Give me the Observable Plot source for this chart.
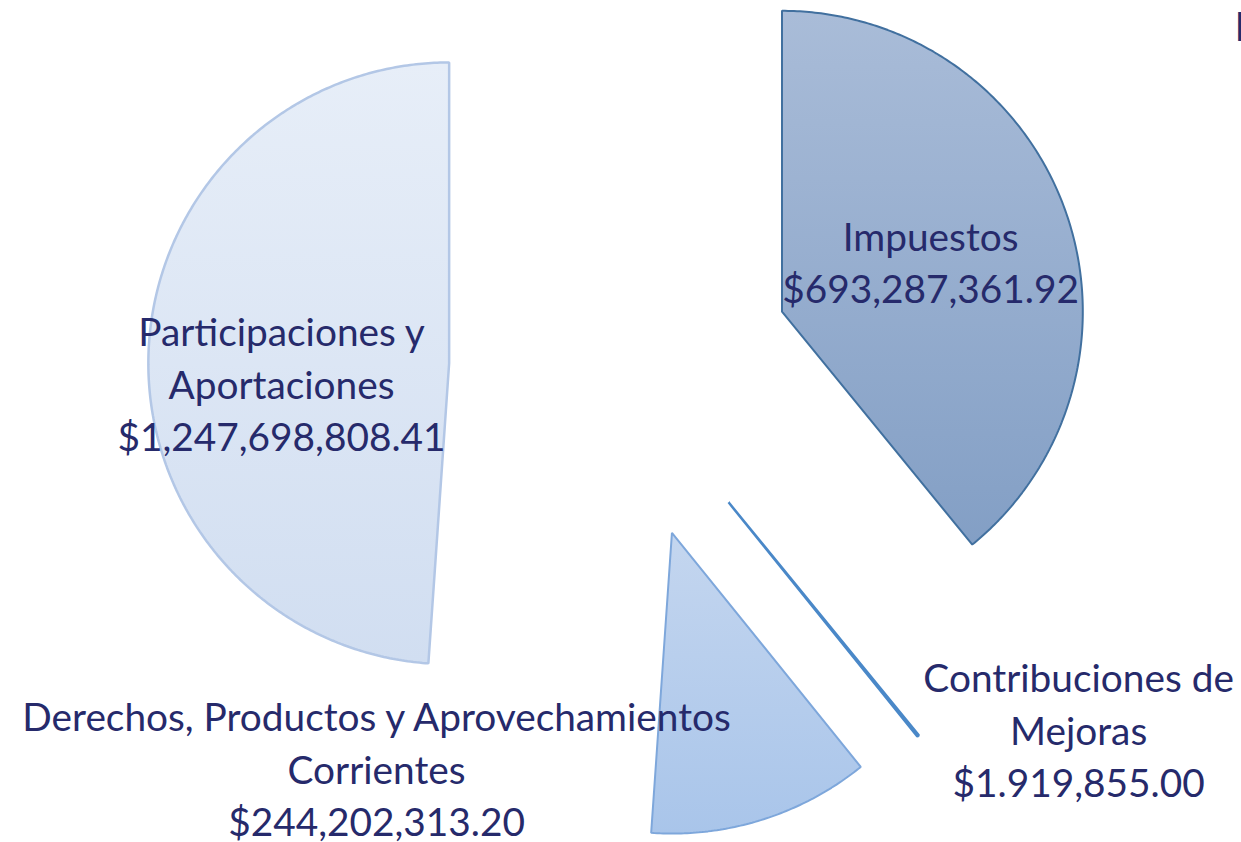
<!DOCTYPE html>
<html><head><meta charset="utf-8">
<script src="https://cdn.jsdelivr.net/npm/d3@7"></script>
<script src="https://cdn.jsdelivr.net/npm/@observablehq/plot@0.6"></script>
<style>
html,body{margin:0;padding:0;background:#fff;overflow:hidden}
#chart svg{display:block}
</style></head><body><div id="chart"></div>
<script>
// ---- data ----
const categories = ["Impuestos", "Contribuciones de Mejoras", "Derechos, Productos y Aprovechamientos Corrientes", "Participaciones y Aportaciones"];
const amounts = [693287361.92, 1919855.00, 244202313.20, 1247698808.41];
const amountLabels = ["$693,287,361.92", "$1.919,855.00", "$244,202,313.20", "$1,247,698,808.41"];
const labelLines = [["Impuestos"], ["Contribuciones de", "Mejoras"], ["Derechos, Productos y Aprovechamientos", "Corrientes"], ["Participaciones y", "Aportaciones"]];
const shares = [39.1, 0.1, 11.9, 48.9]; // share of the circle (%) as drawn in the picture
const clippedTitle = ["I"];

// ---- layout / style ----
const W = 1241, H = 842, R = 300.8, CX = 620, CY = 368.7, EXPLODE = 0.57;
const gradTop = ["#a9bcd8", "#5a8fcb", "#c4d6ef", "#e7eef8"];
const gradBottom = ["#839fc5", "#4d87c6", "#a9c5ea", "#d1def1"];
const strokes = ["#41709f", "#4a88c8", "#7ea7db", "#b3c7e6"];
const strokeWidths = [2, 2.5, 2, 2.5];
const labelPos = [[1.031, 0.362], [1.523, -1.192], [-0.811, -1.322], [-1.127, -0.042]];
const textColor = "#262a6b";

const arcs = d3.pie().sort(null).value(d => d)(shares);
const slices = arcs.map((a, i) => {
  const mid = (a.startAngle + a.endAngle) / 2;
  const ox = EXPLODE * Math.sin(mid), oy = EXPLODE * Math.cos(mid);
  const pts = [{x: ox, y: oy}];
  const n = Math.max(2, Math.ceil((a.endAngle - a.startAngle) / 0.01));
  for (let k = 0; k <= n; k++) {
    const t = a.startAngle + (a.endAngle - a.startAngle) * k / n;
    pts.push({x: ox + Math.sin(t), y: oy + Math.cos(t)});
  }
  return pts;
});

const labels = categories.map((c, i) => ({
  x: labelPos[i][0], y: labelPos[i][1],
  text: [...labelLines[i], amountLabels[i]].join("\n")
}));

const marks = slices.map((pts, i) => Plot.line(pts, {
  x: "x", y: "y", curve: "linear-closed",
  fill: `url(#grad${i})`, stroke: strokes[i], strokeWidth: strokeWidths[i], strokeLinejoin: "miter"
}));
marks.push(Plot.text(labels, {
  x: "x", y: "y", text: "text", fontSize: 38.8, fontFamily: "Lato", fill: textColor,
  lineHeight: 1.35, lineAnchor: "middle", textAnchor: "middle"
}));
marks.push(Plot.text(clippedTitle, {
  x: () => 2.041, y: () => 1.134, text: d => d, fontSize: 40, fontFamily: "Lato",
  fill: textColor, textAnchor: "start", lineAnchor: "middle"
}));

const svg = Plot.plot({
  width: W, height: H, margin: 0,
  x: {domain: [-CX / R, (W - CX) / R], range: [0, W], axis: null},
  y: {domain: [-(H - CY) / R, CY / R], range: [H, 0], axis: null},
  style: {background: "white", overflow: "hidden"},
  marks
});

const defs = d3.select(svg).insert("defs", ":first-child");
gradTop.forEach((c, i) => {
  const g = defs.append("linearGradient").attr("id", `grad${i}`)
    .attr("x1", 0).attr("y1", 0).attr("x2", 0).attr("y2", 1);
  g.append("stop").attr("offset", "0%").attr("stop-color", c);
  g.append("stop").attr("offset", "100%").attr("stop-color", gradBottom[i]);
});

document.getElementById("chart").appendChild(svg);
</script>
</body></html>
